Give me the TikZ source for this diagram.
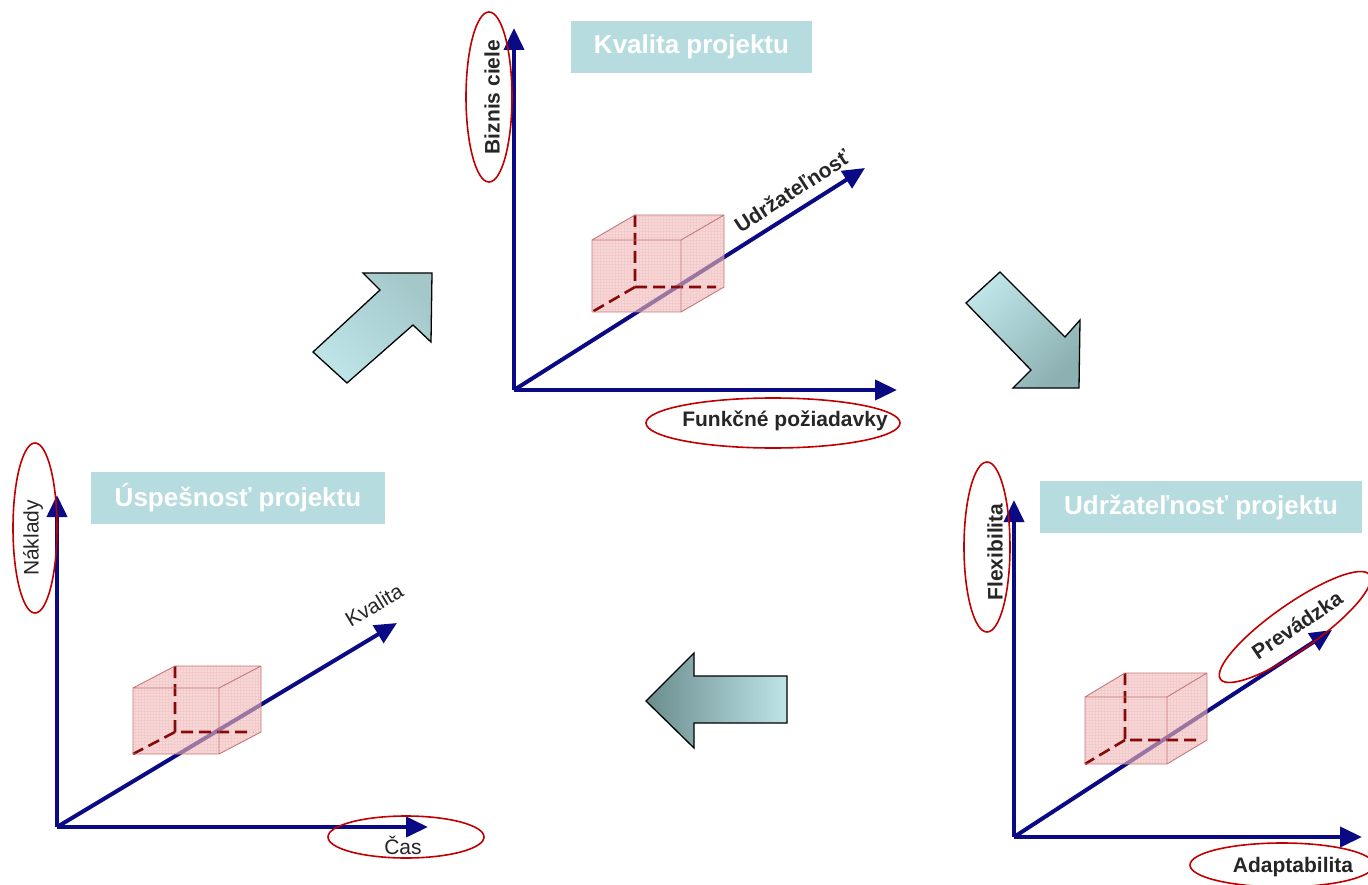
\documentclass[tikz,border=0pt]{standalone}
\usepackage{fontspec}
\setmainfont{Liberation Sans}
\usetikzlibrary{arrows.meta,shapes.geometric}
\definecolor{navy}{HTML}{0A0A84}
\definecolor{ringred}{HTML}{C00000}
\definecolor{titlebg}{HTML}{B7DCDF}
\definecolor{labelink}{HTML}{262626}
\definecolor{cubepink}{HTML}{F5BDBD}
\definecolor{cubeline}{HTML}{C47878}
\definecolor{hiddenred}{HTML}{850A0A}
\definecolor{tealpale}{HTML}{BEE4E8}
\definecolor{tealmid}{HTML}{A4C8CA}
\definecolor{tealdeep}{HTML}{8DB1B2}
\definecolor{tealdark}{HTML}{6A8D8D}

% translucent box: front top-left x, y, width, height, depth dx, depth dy
\newcommand\projcube[6]{%
  \fill[cubefill] (#1,#2) -- ++(#5,-#6) -- ++(#3,0) -- ++(0,#4) -- ++(-#5,#6) -- ++(-#3,0) -- cycle;
  \begin{scope}
    \clip (#1,#2) -- ++(#5,-#6) -- ++(#3,0) -- ++(0,#4) -- ++(-#5,#6) -- ++(-#3,0) -- cycle;
    \draw[cubegrid] (#1,#2+#4) grid (#1+#3+#5,#2-#6);
  \end{scope}
  \draw[hidden] (#1+#5,#2-#6) -- (#1+#5,#2+#4-#6) -- (#1+#3+#5-8,#2+#4-#6)
    (#1+#5,#2+#4-#6) -- (#1,#2+#4);
  \draw[cubeedge] (#1,#2) rectangle ++(#3,#4)
    (#1,#2) -- ++(#5,-#6) -- ++(#3,0) -- ++(0,#4) -- ++(-#5,#6)
    (#1+#3,#2) -- ++(#5,-#6);
}

\begin{document}
\begin{tikzpicture}[x=1pt,y=-1pt,
  axis/.style={draw=navy,line width=4pt,-{Triangle[length=22pt,width=20pt]}},
  heading/.style={fill=titlebg,text=white,font=\bfseries\fontsize{26}{30}\selectfont,
    minimum height=52pt,inner sep=0pt},
  axlabel/.style={text=labelink,font=\fontsize{21}{25}\selectfont,inner sep=0pt},
  axlabelb/.style={text=labelink,font=\bfseries\fontsize{21}{25}\selectfont,inner sep=0pt},
  ring/.style={draw=ringred,line width=1.6pt,ellipse,inner sep=0pt},
  blockarrow/.style={draw=black,line width=1.3pt,line join=miter},
  cubefill/.style={fill=cubepink,fill opacity=0.6},
  cubegrid/.style={draw=cubeline,draw opacity=0.12,line width=0.3pt,step=3pt},
  cubeedge/.style={draw=cubeline,line width=0.9pt},
  hidden/.style={draw=hiddenred,line width=2.6pt,dash pattern=on 12pt off 6pt}]
\useasboundingbox (0,0) rectangle (1368,885);
\clip (0,0) rectangle (1368,885);

% cycle arrows
\draw[blockarrow,top color=tealmid,bottom color=tealpale,shading angle=-45]
  (313,352) -- (380,290) -- (363,273) -- (432,273) -- (431,342) -- (413,325) -- (347,383) -- cycle;
\draw[blockarrow,top color=tealpale,bottom color=tealdeep,shading angle=45]
  (966,303) -- (1000,272) -- (1065,337) -- (1080,320) -- (1079,388) -- (1013,388) -- (1031,370) -- cycle;
\draw[blockarrow,left color=tealdark,right color=tealpale]
  (646,701) -- (694,653) -- (694,676) -- (787,676) -- (787,723) -- (694,723) -- (694,748) -- cycle;

% quality
\coordinate (q0) at (514,390);
\coordinate (qy) at (514,28);
\coordinate (qx) at (897,390);
\coordinate (qz) at (865,168);
\draw[axis] (q0) -- (qy);
\draw[axis] (q0) -- (qx);
\draw[axis] (q0) -- (qz);
\projcube{592}{240}{89}{72}{43}{25}
\node[heading,minimum width=241pt] (qtitle) at (691.5,47) {Kvalita projektu};
\node[axlabelb,rotate=90] (qylab) at (492,97) {Biznis ciele};
\node[axlabelb,rotate=33] (qzlab) at (792,191) {Udržateľnosť};
\node[axlabelb] (qxlab) at (785,421) {Funkčné požiadavky};
\node[ring,minimum width=46pt,minimum height=170pt] (qyring) at (489,97) {};
\node[ring,minimum width=254pt,minimum height=50pt] (qxring) at (773,423) {};

% success
\coordinate (s0) at (57,827);
\coordinate (sy) at (57,495);
\coordinate (sx) at (428,827);
\coordinate (sz) at (397,623);
\draw[axis] (s0) -- (sy);
\draw[axis] (s0) -- (sx);
\draw[axis] (s0) -- (sz);
\projcube{133}{688}{86}{66}{42}{22}
\node[heading,minimum width=294pt] (stitle) at (238,497.5) {Úspešnosť projektu};
\node[axlabel,rotate=90] (sylab) at (33,538) {Náklady};
\node[axlabel,rotate=31] (szlab) at (374,605) {Kvalita};
\node[axlabel] (sxlab) at (403,845) {Čas};
\node[ring,minimum width=44pt,minimum height=170pt] (syring) at (35,528) {};
\node[ring,minimum width=156pt,minimum height=42pt] (sxring) at (406,837) {};

% sustainability
\coordinate (u0) at (1014,837);
\coordinate (uy) at (1014,500);
\coordinate (ux) at (1362,837);
\coordinate (uz) at (1332,630);
\draw[axis] (u0) -- (uy);
\draw[axis] (u0) -- (ux);
\draw[axis] (u0) -- (uz);
\projcube{1085}{697}{82}{67}{40}{24}
\node[heading,minimum width=322pt] (utitle) at (1201,507) {Udržateľnosť projektu};
\node[axlabelb,rotate=90] (uylab) at (995,552) {Flexibilita};
\node[axlabelb,rotate=34] (uzlab) at (1297,625) {Prevádzka};
\node[axlabelb] (uxlab) at (1293,867) {Adaptabilita};
\node[ring,minimum width=46pt,minimum height=170pt] (uyring) at (987,547) {};
\node[ring,minimum width=182pt,minimum height=46pt,rotate=35] (uzring) at (1295,627) {};
\node[ring,minimum width=184pt,minimum height=44pt] (uxring) at (1282,865) {};
\end{tikzpicture}
\end{document}
